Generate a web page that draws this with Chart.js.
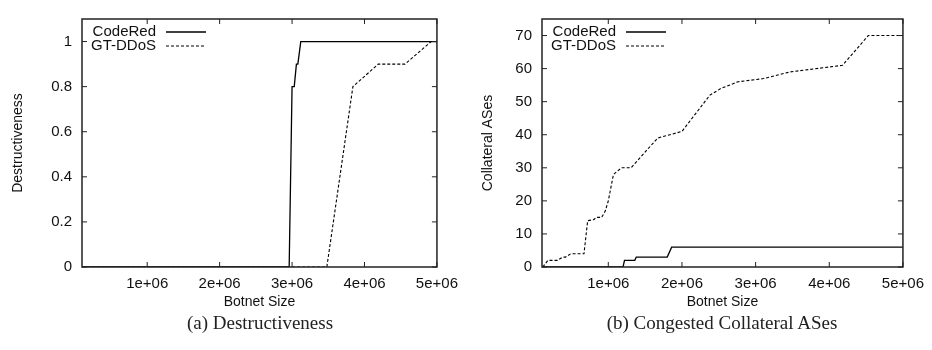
<!DOCTYPE html>
<html>
<head>
<meta charset="utf-8">
<script src="https://cdn.jsdelivr.net/npm/chart.js@4/dist/chart.umd.min.js"></script>
<style>
  body { margin: 0; background: #fff; }
  #page { position: relative; width: 932px; height: 350px; }
  .box { position: absolute; top: 0; height: 316px; }
  .caption {
    position: absolute; top: 312px; width: 400px; text-align: center;
    font-family: "Liberation Serif", serif; font-size: 19px; color: #222;
  }
</style>
</head>
<body>
<div id="page">
  <div class="box" style="left:0; width:466px;"><canvas id="destrChart"></canvas></div>
  <div class="box" style="left:466px; width:466px;"><canvas id="collChart"></canvas></div>
  <div class="caption" style="left:60px;">(a) Destructiveness</div>
  <div class="caption" style="left:522px;">(b) Congested Collateral ASes</div>
</div>
<script>
// tick values / labels
const botnetTicks = [1e6, 2e6, 3e6, 4e6, 5e6];
const botnetTickLabels = ["1e+06", "2e+06", "3e+06", "4e+06", "5e+06"];
const destrTicks = [0, 0.2, 0.4, 0.6, 0.8, 1];
const collTicks = [0, 10, 20, 30, 40, 50, 60, 70];

// (a) destructiveness
const destrCodeRedX = [1e5, 2.96e6, 3.0e6, 3.03e6, 3.06e6, 3.08e6, 3.12e6, 5e6];
const destrCodeRedY = [0, 0, 0.8, 0.8, 0.9, 0.9, 1, 1];
const destrGtX = [1e5, 3.48e6, 3.84e6, 4.19e6, 4.56e6, 4.92e6, 5e6];
const destrGtY = [0, 0, 0.8, 0.9, 0.9, 1, 1];

// (b) collateral ASes
const collCodeRedX = [1e5, 1.2e6, 1.22e6, 1.36e6, 1.38e6, 1.8e6, 1.86e6, 5e6];
const collCodeRedY = [0, 0, 2, 2, 3, 3, 6, 6];
const collGtX = [1.1e5, 1.8e5, 3.1e5, 3.8e5, 4.2e5, 4.9e5, 6.7e5, 7.2e5, 8.0e5, 8.4e5, 9.1e5, 9.6e5,
  1.0e6, 1.07e6, 1.18e6, 1.31e6, 1.67e6, 2.0e6, 2.38e6, 2.53e6, 2.76e6, 3.11e6, 3.47e6, 4.18e6, 4.53e6, 4.96e6];
const collGtY = [0, 2, 2, 3, 3, 4, 4, 14, 14.3, 15, 15, 17,
  20, 28, 30, 30, 39, 41, 52, 54, 56, 57, 59, 61, 70, 70];

Chart.defaults.font.family = '"Liberation Sans", Arial, sans-serif';
Chart.defaults.font.size = 15;
Chart.defaults.color = "#111";

const toPoints = (xs, ys) => xs.map((x, i) => ({ x: x, y: ys[i] }));

// gnuplot-like frame, inward mirrored ticks and legend
const gnuplotLook = {
  id: "gnuplotLook",
  afterDatasetsDraw(chart) {
    const { ctx, chartArea: a, scales } = chart;
    ctx.save();
    ctx.strokeStyle = "#222";
    ctx.lineWidth = 1.5;
    ctx.strokeRect(a.left, a.top, a.right - a.left, a.bottom - a.top);
    ctx.lineWidth = 1;
    const tl = 5;
    scales.x.ticks.forEach(t => {
      const px = scales.x.getPixelForValue(t.value);
      ctx.beginPath();
      ctx.moveTo(px, a.bottom); ctx.lineTo(px, a.bottom - tl);
      ctx.moveTo(px, a.top); ctx.lineTo(px, a.top + tl);
      ctx.stroke();
    });
    scales.y.ticks.forEach(t => {
      const py = scales.y.getPixelForValue(t.value);
      ctx.beginPath();
      ctx.moveTo(a.left, py); ctx.lineTo(a.left + tl, py);
      ctx.moveTo(a.right, py); ctx.lineTo(a.right - tl, py);
      ctx.stroke();
    });
    // legend: text right aligned, then line sample
    ctx.font = '15px "Liberation Sans", Arial, sans-serif';
    ctx.textAlign = "right";
    ctx.textBaseline = "middle";
    ctx.fillStyle = "#111";
    chart.data.datasets.forEach((ds, i) => {
      const y = a.top + 13 + i * 14;
      ctx.fillText(ds.label, a.left + 74, y);
      ctx.beginPath();
      ctx.strokeStyle = ds.borderColor;
      ctx.lineWidth = ds.borderWidth;
      ctx.setLineDash(ds.borderDash || []);
      ctx.moveTo(a.left + 84, y);
      ctx.lineTo(a.left + 124, y);
      ctx.stroke();
      ctx.setLineDash([]);
    });
    ctx.restore();
  }
};

function makeChart(id, opts) {
  return new Chart(document.getElementById(id), {
    type: "scatter",
    data: {
      datasets: [
        {
          label: "CodeRed",
          data: toPoints(opts.redX, opts.redY),
          showLine: true,
          borderColor: "#000",
          borderWidth: 1.3,
          pointRadius: 0
        },
        {
          label: "GT-DDoS",
          data: toPoints(opts.gtX, opts.gtY),
          showLine: true,
          borderColor: "#000",
          borderWidth: 1.1,
          borderDash: [3, 2],
          pointRadius: 0
        }
      ]
    },
    options: {
      responsive: true,
      maintainAspectRatio: false,
      animation: false,
      layout: { padding: { top: 8, right: opts.rightPad, left: 0, bottom: 0 } },
      plugins: { legend: { display: false }, tooltip: { enabled: false } },
      scales: {
        x: {
          type: "linear",
          min: 1e5,
          max: 5e6,
          grid: { display: false, drawTicks: false },
          border: { display: false },
          afterBuildTicks: s => { s.ticks = botnetTicks.map(v => ({ value: v })); },
          afterFit: s => { s.height = 49; },
          ticks: {
            padding: 8,
            maxRotation: 0,
            autoSkip: false,
            callback: (v, i) => botnetTickLabels[i]
          },
          title: { display: true, text: "Botnet Size", font: { size: 14 }, padding: { top: 0, bottom: 5 } }
        },
        y: {
          min: 0,
          max: opts.yMax,
          grid: { display: false, drawTicks: false },
          border: { display: false },
          afterBuildTicks: s => { s.ticks = opts.yTicks.map(v => ({ value: v })); },
          afterFit: s => { s.width = opts.yWidth; },
          ticks: { padding: 10, autoSkip: false, callback: v => String(v) },
          title: { display: true, text: opts.yTitle, font: { size: 14 }, padding: { top: opts.yTitlePad, bottom: 0 } }
        }
      }
    },
    plugins: [gnuplotLook]
  });
}

makeChart("destrChart", {
  redX: destrCodeRedX, redY: destrCodeRedY,
  gtX: destrGtX, gtY: destrGtY,
  yMax: 1.1, yTicks: destrTicks, yTitle: "Destructiveness",
  yWidth: 82, yTitlePad: 10, rightPad: 28
});

makeChart("collChart", {
  redX: collCodeRedX, redY: collCodeRedY,
  gtX: collGtX, gtY: collGtY,
  yMax: 75, yTicks: collTicks, yTitle: "Collateral ASes",
  yWidth: 76, yTitlePad: 14, rightPad: 25
});
</script>
</body>
</html>
